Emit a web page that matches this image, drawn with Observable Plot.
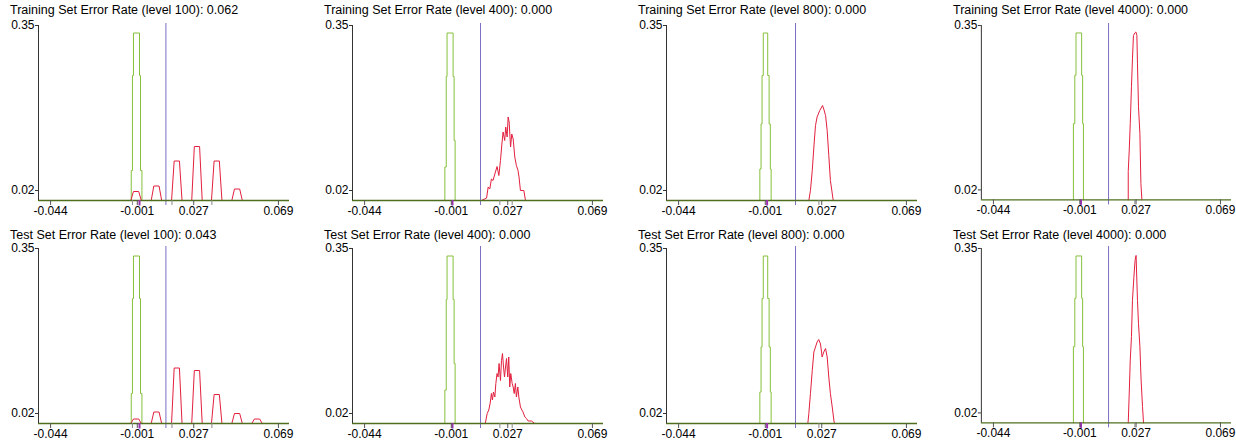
<!DOCTYPE html>
<html>
<head>
<meta charset="utf-8">
<script src="https://cdn.jsdelivr.net/npm/d3@7"></script>
<script src="https://cdn.jsdelivr.net/npm/@observablehq/plot@0.6"></script>
<style>
  html, body { margin: 0; padding: 0; background: #fff; }
  body { width: 1236px; height: 446px; overflow: hidden; position: relative; font-family: "Liberation Sans", Arial, sans-serif; }
  .title { position: absolute; font-size: 12.5px; line-height: 16px; color: #000; white-space: nowrap; }
  .panel { position: absolute; }
  .panel svg { display: block; overflow: visible; }
</style>
</head>
<body>
<script>
// ---- tick labels ----
const xTicks = [-0.044, -0.001, 0.027, 0.069];
const xTickLabels = ["-0.044", "-0.001", "0.027", "0.069"];
const yTicks = [0.02, 0.35];
const yTickLabels = ["0.02", "0.35"];

// ---- panel titles ----
const titles = [
  "Training Set Error Rate (level 100): 0.062",
  "Training Set Error Rate (level 400): 0.000",
  "Training Set Error Rate (level 800): 0.000",
  "Training Set Error Rate (level 4000): 0.000",
  "Test Set Error Rate (level 100): 0.043",
  "Test Set Error Rate (level 400): 0.000",
  "Test Set Error Rate (level 800): 0.000",
  "Test Set Error Rate (level 4000): 0.000"
];

// ---- decision threshold per panel ----
const thresholds = [0.0132, 0.0135, 0.0140, 0.0133, 0.0132, 0.0135, 0.0140, 0.0133];

// ---- green histogram (class A) per column: bin edges and heights ----
const greenEdges1 = [-0.0040, -0.0034, -0.0029, 0.0001, 0.0006, 0.0013];
const greenHeights1 = [0.06, 0.25, 0.335, 0.25, 0.06];
const greenEdges2 = [-0.0042, -0.0035, -0.0031, -0.0001, 0.0004, 0.0009];
const greenHeights2 = [0.067, 0.248, 0.335, 0.248, 0.12];
const greenEdges3 = [-0.0037, -0.0031, -0.0026, -0.0020, 0.0002, 0.0009, 0.0015, 0.0019];
const greenHeights3 = [0.063, 0.153, 0.25, 0.335, 0.25, 0.153, 0.063];
const greenEdges4 = [-0.0042, -0.0035, -0.0029, -0.0001, 0.0004, 0.0008];
const greenHeights4 = [0.153, 0.25, 0.335, 0.25, 0.153];

// ---- red distribution (class B) per panel ----
const redX1 = [-0.0042,-0.0029,-0.0003,0.0010, 0.0059,0.0072,0.0098,0.0111, 0.0160,0.0173,0.0199,0.0212, 0.0260,0.0273,0.0299,0.0312, 0.0358,0.0371,0.0397,0.0410, 0.0459,0.0472,0.0498,0.0511];
const redY1 = [0,0.018,0.018,0, 0,0.029,0.029,0, 0,0.079,0.079,0, 0,0.108,0.108,0, 0,0.079,0.079,0, 0,0.023,0.023,0];
const redX2 = [0.0140,0.0165,0.0173,0.0181,0.0189,0.0197,0.0206,0.0217,0.0226,0.0234,0.0241,0.0247,0.0255,0.0260,0.0267,0.0272,0.0277,0.0284,0.0290,0.0297,0.0305,0.0313,0.0321,0.0326,0.0333,0.0350,0.0358];
const redY2 = [0,0.005,0.027,0.023,0.043,0.040,0.053,0.068,0.050,0.080,0.113,0.137,0.120,0.147,0.127,0.167,0.157,0.107,0.133,0.123,0.087,0.070,0.060,0.047,0.020,0.020,0];
const redX3 = [0.0206,0.0214,0.0223,0.0231,0.0239,0.0247,0.0260,0.0274,0.0280,0.0289,0.0297,0.0305,0.0313,0.0327];
const redY3 = [0,0.020,0.060,0.107,0.150,0.167,0.180,0.190,0.183,0.170,0.140,0.090,0.040,0];
const redX4 = [0.0231,0.0231,0.0236,0.0241,0.0247,0.0252,0.0257,0.0264,0.0269,0.0274,0.0277,0.0282,0.0289,0.0294,0.0299];
const redY4 = [0,0.057,0.100,0.153,0.227,0.283,0.330,0.335,0.337,0.330,0.273,0.187,0.133,0.033,0];
const redX5 = [-0.0042,-0.0029,-0.0003,0.0010, 0.0059,0.0072,0.0098,0.0111, 0.0160,0.0173,0.0199,0.0212, 0.0260,0.0273,0.0299,0.0312, 0.0358,0.0371,0.0397,0.0410, 0.0459,0.0472,0.0498,0.0511, 0.0558,0.0571,0.0597,0.0610];
const redY5 = [0,0.009,0.009,0, 0,0.023,0.023,0, 0,0.111,0.111,0, 0,0.106,0.106,0, 0,0.058,0.058,0, 0,0.020,0.020,0, 0,0.009,0.009,0];
const redX6 = [0.0158,0.0160,0.0168,0.0176,0.0183,0.0189,0.0194,0.0199,0.0206,0.0211,0.0217,0.0222,0.0227,0.0234,0.0239,0.0244,0.0249,0.0254,0.0259,0.0264,0.0270,0.0275,0.0280,0.0285,0.0292,0.0297,0.0302,0.0308,0.0313,0.0320,0.0325,0.0333,0.0340,0.0346,0.0355,0.0363,0.0371,0.0388,0.0404];
const redY6 = [0,0.003,0.020,0.027,0.041,0.060,0.047,0.063,0.053,0.080,0.100,0.093,0.120,0.086,0.126,0.140,0.113,0.093,0.113,0.130,0.093,0.133,0.073,0.100,0.080,0.073,0.060,0.080,0.053,0.073,0.053,0.033,0.027,0.023,0.013,0.010,0.005,0.005,0];
const redX7 = [0.0201,0.0206,0.0214,0.0223,0.0231,0.0239,0.0247,0.0255,0.0264,0.0272,0.0280,0.0289,0.0297,0.0305,0.0313,0.0322,0.0330,0.0333];
const redY7 = [0,0.020,0.060,0.106,0.143,0.153,0.163,0.168,0.159,0.133,0.143,0.150,0.133,0.093,0.060,0.033,0.007,0];
const redX8 = [0.0231,0.0236,0.0241,0.0247,0.0252,0.0259,0.0265,0.0270,0.0277,0.0282,0.0289,0.0295,0.0302,0.0307];
const redY8 = [0,0.060,0.126,0.173,0.246,0.292,0.326,0.336,0.246,0.199,0.153,0.086,0.033,0];

// ---- small marker ticks under the axis ----
const purpleMarks = [0.0001, -0.0004, -0.0001, -0.0004];
const minorTicks = [
  [-0.0034, 0.0162, 0.0360], [0.0231, 0.0292], [0.0256], [0.0264],
  [-0.0034, 0.0162, 0.0360], [0.0231, 0.0292], [0.0256], [0.0264]
];

const greenEdges = [greenEdges1, greenEdges2, greenEdges3, greenEdges4];
const greenHeights = [greenHeights1, greenHeights2, greenHeights3, greenHeights4];
const redX = [redX1, redX2, redX3, redX4, redX5, redX6, redX7, redX8];
const redY = [redY1, redY2, redY3, redY4, redY5, redY6, redY7, redY8];

const panelLeft = [0, 314, 628, 943];
const svgTop = [20, 243];
const titleTop = [2, 227];

const GREEN = "#86c03a", RED = "#e2203e", BLUE = "#7a6fc4", BASE = "#4f6f1f";

function makePanel(i) {
  const col = i % 4;
  const e = greenEdges[col], h = greenHeights[col];
  const green = [{x: e[0], y: 0}, ...h.map((v, k) => ({x: e[k], y: v})), {x: e[e.length - 1], y: 0}];
  const red = redX[i].map((x, k) => ({x, y: redY[i][k]}));
  return Plot.plot({
    width: 294, height: 202,
    marginLeft: 38, marginRight: 5, marginTop: 5, marginBottom: 22,
    x: {domain: [-0.050, 0.0745], label: null},
    y: {domain: [0, 0.35], label: null},
    style: {fontFamily: "'Liberation Sans', Arial, sans-serif", fontSize: "12px", color: "#000", background: "transparent", overflow: "visible"},
    marks: [
      Plot.ruleX([thresholds[i]], {y1: -0.01, y2: 0.354, stroke: BLUE}),
      Plot.line(green, {x: "x", y: "y", curve: "step-after", stroke: GREEN, strokeWidth: 1}),
      Plot.line(red, {x: "x", y: "y", stroke: RED, strokeWidth: 1}),
      Plot.ruleY([0], {stroke: BASE, strokeWidth: 1.3}),
      Plot.ruleX([-0.050], {y1: 0, y2: 0.35, stroke: "#333"}),
      Plot.ruleX(minorTicks[i], {y1: 0, y2: -0.01, stroke: "#888"}),
      Plot.ruleX([purpleMarks[col]], {y1: 0, y2: -0.011, stroke: "#9b30b0", strokeWidth: 2}),
      Plot.axisX({ticks: xTicks, tickFormat: d => xTickLabels[xTicks.indexOf(d)], tickSize: 5, tickPadding: 1, stroke: "#555", fill: "#000", label: null}),
      Plot.axisY({ticks: yTicks, tickFormat: d => yTickLabels[yTicks.indexOf(d)], tickSize: 3, tickPadding: 1, stroke: "#333", fill: "#000", label: null})
    ]
  });
}

for (let i = 0; i < 8; i++) {
  const row = Math.floor(i / 4), col = i % 4;
  const t = document.createElement("div");
  t.className = "title";
  t.style.left = (panelLeft[col] + 10) + "px";
  t.style.top = titleTop[row] + "px";
  t.textContent = titles[i];
  document.body.appendChild(t);
  const p = document.createElement("div");
  p.className = "panel";
  p.style.left = panelLeft[col] + "px";
  p.style.top = svgTop[row] + "px";
  p.appendChild(makePanel(i));
  document.body.appendChild(p);
}
</script>
</body>
</html>
